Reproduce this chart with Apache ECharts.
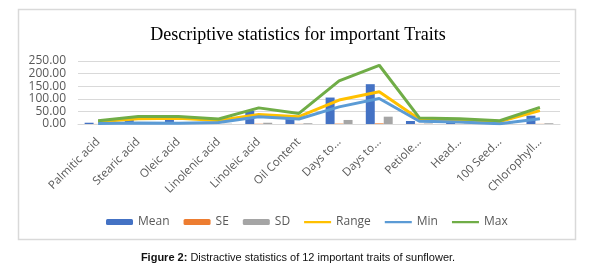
<!DOCTYPE html>
<html>
<head>
<meta charset="utf-8">
<script src="https://cdn.jsdelivr.net/npm/echarts@6/dist/echarts.min.js"></script>
<style>
  html, body { margin: 0; padding: 0; background: #fff; }
  #chart { width: 596px; height: 268px; }
</style>
</head>
<body>
<div id="chart"></div>
<script>
// trait names as shown (truncated) on the x axis
const traits = ['Palmitic acid', 'Stearic acid', 'Oleic acid', 'Linolenic acid', 'Linoleic acid', 'Oil Content',
  'Days to...', 'Days to...', 'Petiole...', 'Head...', '100 Seed...', 'Chlorophyll...']
const meanVals = [5, 16, 16, 4, 52, 20, 105, 158, 12, 8, 5, 33]
const seVals = [0.3, 0.5, 0.6, 0.3, 1, 0.6, 1.5, 2.5, 0.4, 0.4, 0.2, 0.6]
const sdVals = [1, 2, 3, 1, 5, 3, 16, 29, 2, 2, 1, 3]
const rangeVals = [9, 21, 23, 14, 38, 29, 95, 128, 19, 17, 10, 53]
const minVals = [2, 4, 3, 6, 29, 20, 68, 101, 11, 8, 1, 21]
const maxVals = [13, 30, 30, 20, 64, 42, 171, 233, 24, 21, 13, 66]
const yTicks = { min: 0, max: 250, interval: 50 }

const chart = echarts.init(document.getElementById('chart'))
const grey = '#595959'
// thin line icon for the line series in the legend (tiny specks keep the box 6px tall)
const lineIcon = 'path://M0,0H0.1V0.01H0Z M0,1.75H30V4.25H0Z M0,5.99H0.1V6H0Z'

function barSeries(name, data, color) {
  return {
    name: name,
    type: 'bar',
    data: data,
    barGap: '0%',
    barCategoryGap: '33%',
    itemStyle: { color: color },
  }
}
function lineSeries(name, data, color) {
  return {
    name: name,
    type: 'line',
    data: data,
    symbol: 'none',
    lineStyle: { color: color, width: 3 },
    itemStyle: { color: color },
  }
}

chart.setOption({
  animation: false,
  title: [
    {
      text: 'Descriptive statistics for important Traits',
      left: 'center',
      top: 21,
      textStyle: { fontFamily: 'Liberation Serif', fontSize: 18, fontWeight: 'normal', color: '#000' },
    },
    {
      text: '{b|Figure 2:} Distractive statistics of 12 important traits of sunflower.',
      left: 'center',
      top: 247,
      textStyle: {
        fontFamily: 'Liberation Sans', fontSize: 11, fontWeight: 'normal', color: '#111',
        rich: { b: { fontFamily: 'Liberation Sans', fontSize: 11, fontWeight: 'bold', color: '#111' } },
      },
    },
  ],
  graphic: [
    {
      type: 'rect',
      shape: { x: 18.5, y: 9.5, width: 557, height: 230 },
      style: { fill: 'none', stroke: '#d9d9d9', lineWidth: 1.5 },
      z: -1,
    },
  ],
  grid: { left: 78, right: 36, top: 61, bottom: 144 },
  legend: {
    top: 211,
    left: 101,
    itemWidth: 27,
    itemHeight: 6,
    itemGap: 14,
    textStyle: { color: grey, fontFamily: 'Open Sans', fontSize: 12 },
    data: [
      'Mean', 'SE', 'SD',
      { name: 'Range', icon: lineIcon },
      { name: 'Min', icon: lineIcon },
      { name: 'Max', icon: lineIcon },
    ],
  },
  xAxis: {
    type: 'category',
    data: traits,
    axisTick: { show: false },
    axisLine: { lineStyle: { color: '#d9d9d9' } },
    axisLabel: { rotate: 45, color: grey, fontFamily: 'Open Sans', fontSize: 11.5, interval: 0, margin: 16 },
  },
  yAxis: {
    type: 'value',
    min: yTicks.min,
    max: yTicks.max,
    interval: yTicks.interval,
    axisLabel: {
      color: grey, fontFamily: 'Open Sans', fontSize: 12, margin: 12, lineHeight: 12,
      hideOverlap: false, showMinLabel: true, showMaxLabel: true,
      formatter: v => v.toFixed(2),
    },
    splitLine: { lineStyle: { color: '#d9d9d9' } },
  },
  series: [
    barSeries('Mean', meanVals, '#4472C4'),
    barSeries('SE', seVals, '#ED7D31'),
    barSeries('SD', sdVals, '#A5A5A5'),
    lineSeries('Range', rangeVals, '#FFC000'),
    lineSeries('Min', minVals, '#5B9BD5'),
    lineSeries('Max', maxVals, '#70AD47'),
  ],
})
</script>
</body>
</html>
